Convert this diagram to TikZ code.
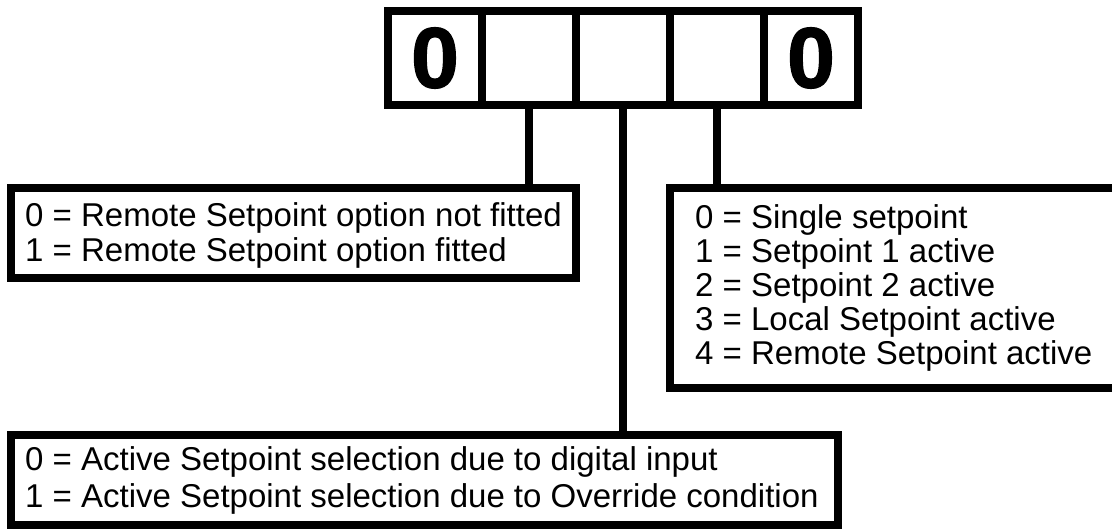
\documentclass[tikz,border=0pt]{standalone}
\usepackage{fontspec}
\setmainfont{Liberation Sans}
\newfontfamily\digitfont[FakeBold=1.5]{Liberation Sans Bold}
\begin{document}
\begin{tikzpicture}[x=1pt,y=-1pt,
  cell/.style={draw, line width=8pt, minimum width=94pt, minimum height=94pt, inner sep=0pt,
    font=\digitfont\fontsize{86}{86}\selectfont},
  frame/.style={draw, line width=8pt, inner sep=0pt},
  conn/.style={line width=8pt},
  txt/.style={anchor=base west, inner sep=0pt, font=\fontsize{33}{36}\selectfont}]
\useasboundingbox (0,0) rectangle (1112,529);
% top digit cells
\node[cell] (c1) at (435,58) {0};
\node[cell] (c2) at (529,58) {};
\node[cell] (c3) at (623,58) {};
\node[cell] (c4) at (717,58) {};
\node[cell] (c5) at (811,58) {0};
% description boxes
\node[frame, minimum width=565pt, minimum height=90pt] (lbox) at (293.5,233) {};
\node[frame, minimum width=455pt, minimum height=200pt] (rbox) at (897.5,288) {};
\node[frame, minimum width=827pt, minimum height=90pt] (bbox) at (424.5,480) {};
% connectors
\draw[conn] (c2.south) -- (c2.south |- lbox.north);
\draw[conn] (c3.south) -- (c3.south |- bbox.north);
\draw[conn] (c4.south) -- (c4.south |- rbox.north);
% texts
\node[txt] (l1) at (25,227) {0 = Remote Setpoint option not fitted};
\node[txt] (l2) at (25,262) {1 = Remote Setpoint option fitted};
\node[txt] (r1) at (695,229) {0 = Single setpoint};
\node[txt] (r2) at (695,263) {1 = Setpoint 1 active};
\node[txt] (r3) at (695,297) {2 = Setpoint 2 active};
\node[txt] (r4) at (695,331) {3 = Local Setpoint active};
\node[txt] (r5) at (695,365) {4 = Remote Setpoint active};
\node[txt] (b1) at (25,471) {0 = Active Setpoint selection due to digital input};
\node[txt] (b2) at (25,507) {1 = Active Setpoint selection due to Override condition};
\end{tikzpicture}
\end{document}
